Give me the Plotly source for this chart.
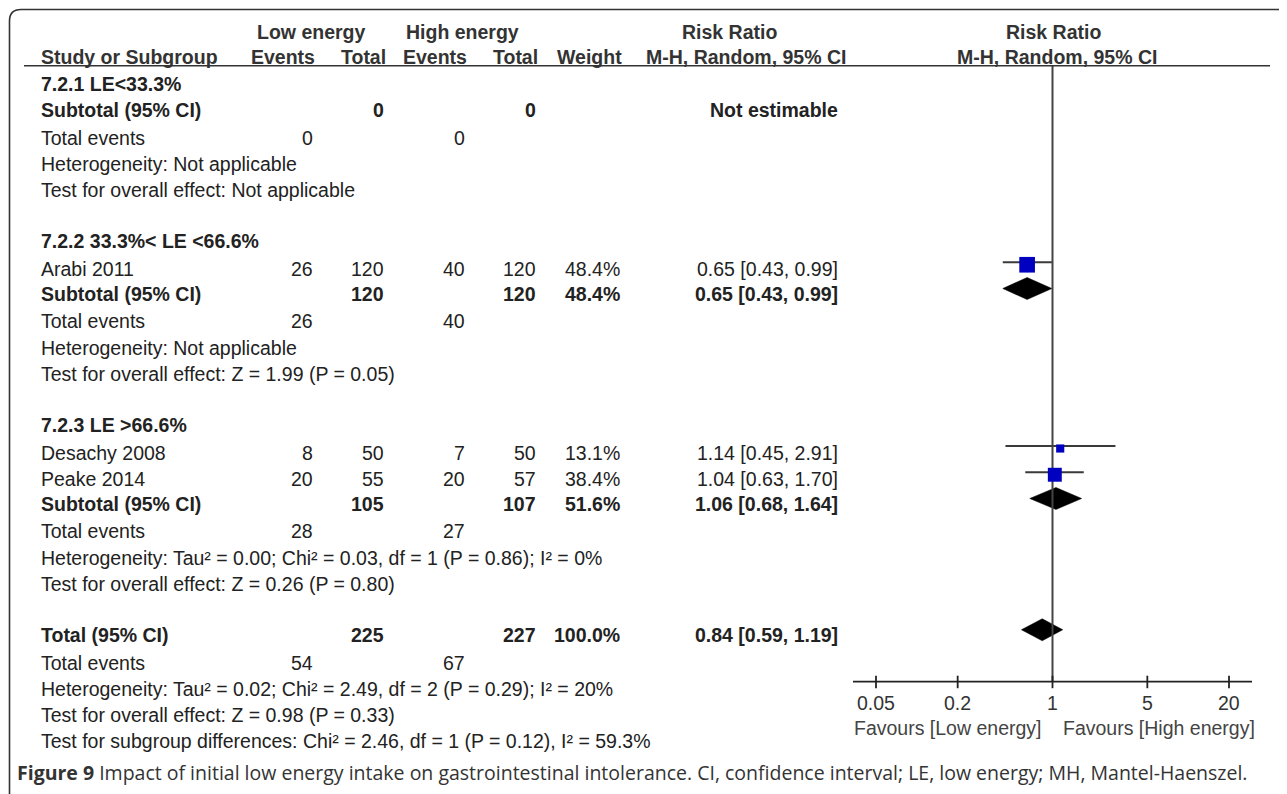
import math
import plotly.graph_objects as go

# ---------------- data ----------------
studies = ["Arabi 2011", "Desachy 2008", "Peake 2014"]
study_group = [2, 3, 3]
low_events = [26, 8, 20]
low_total = [120, 50, 55]
high_events = [40, 7, 20]
high_total = [120, 50, 57]
weights = [48.4, 13.1, 38.4]
rr = [0.65, 1.14, 1.04]
rr_lo = [0.43, 0.45, 0.63]
rr_hi = [0.99, 2.91, 1.70]

group_names = ["7.2.1 LE<33.3%", "7.2.2 33.3%< LE <66.6%", "7.2.3 LE >66.6%"]
group_low_total = [0, 120, 105]
group_high_total = [0, 120, 107]
group_weight = [None, 48.4, 51.6]
group_rr = [None, 0.65, 1.06]
group_lo = [None, 0.43, 0.68]
group_hi = [None, 0.99, 1.64]
group_low_events = [0, 26, 28]
group_high_events = [0, 40, 27]
group_het = ["Heterogeneity: Not applicable",
             "Heterogeneity: Not applicable",
             "Heterogeneity: Tau² = 0.00; Chi² = 0.03, df = 1 (P = 0.86); I² = 0%"]
group_test = ["Test for overall effect: Not applicable",
              "Test for overall effect: Z = 1.99 (P = 0.05)",
              "Test for overall effect: Z = 0.26 (P = 0.80)"]

total_low_total = 225
total_high_total = 227
total_weight = 100.0
total_rr = 0.84
total_lo = 0.59
total_hi = 1.19
total_low_events = 54
total_high_events = 67
total_het = "Heterogeneity: Tau² = 0.02; Chi² = 2.49, df = 2 (P = 0.29); I² = 20%"
total_test = "Test for overall effect: Z = 0.98 (P = 0.33)"
subgroup_test = "Test for subgroup differences: Chi² = 2.46, df = 1 (P = 0.12), I² = 59.3%"

tick_vals = [0.05, 0.2, 1, 5, 20]
tick_text = ["0.05", "0.2", "1", "5", "20"]
favours_left = "Favours [Low energy]"
favours_right = "Favours [High energy]"
caption_bold = "Figure 9"
caption_rest = (" Impact of initial low energy intake on gastrointestinal intolerance. "
                "CI, confidence interval; LE, low energy; MH, Mantel-Haenszel.")

# ---------------- layout constants ----------------
PAGE_W, PAGE_H = 1287, 794
OFF = 8                      # page body margin: the figure starts 8px in
FIG_W, FIG_H = PAGE_W - OFF, PAGE_H - OFF
FONT = "Liberation Sans, Arial, Helvetica, sans-serif"
FS = 19.5
TXT = "#222222"
HDR = "#333333"
BLUE = "#0000c0"
LINE = "#3a3a3a"
LABEL_X = 39
COL = {"ev1": 315, "tot1": 386, "ev2": 467, "tot2": 538, "wt": 622, "rr": 840}
Y0, STEP, BOLD_SHIFT = 85, 26.25, 1.5
XR = 1.4705          # half-width of the log axis range (log10 units)
X2_LEFT, X2_RIGHT = 853, 1252
AX_Y = 681.7         # y of the forest axis line
TOP_LINE_Y = 65.7

def esc(s):
    return s.replace("&", "&amp;").replace("<", "&lt;").replace(">", "&gt;")

def fmt_ci(e, l, h):
    return f"{e:.2f} [{l:.2f}, {h:.2f}]"

rows = []
def add(label="", bold=False, cells=None, mark=None):
    rows.append(dict(label=label, bold=bold, cells=cells or {}, mark=mark))

for g in range(3):
    add(esc(group_names[g]), bold=True)
    for i, s in enumerate(studies):
        if study_group[i] == g + 1:
            add(s, cells={"ev1": low_events[i], "tot1": low_total[i],
                          "ev2": high_events[i], "tot2": high_total[i],
                          "wt": f"{weights[i]:.1f}%",
                          "rr": fmt_ci(rr[i], rr_lo[i], rr_hi[i])},
                mark=("square", rr[i], rr_lo[i], rr_hi[i], weights[i]))
    if group_rr[g] is None:
        add("Subtotal (95% CI)", bold=True,
            cells={"tot1": group_low_total[g], "tot2": group_high_total[g], "rr": "Not estimable"})
    else:
        add("Subtotal (95% CI)", bold=True,
            cells={"tot1": group_low_total[g], "tot2": group_high_total[g],
                   "wt": f"{group_weight[g]:.1f}%",
                   "rr": fmt_ci(group_rr[g], group_lo[g], group_hi[g])},
            mark=("diamond", group_rr[g], group_lo[g], group_hi[g], None))
    add("Total events", cells={"ev1": group_low_events[g], "ev2": group_high_events[g]})
    add(group_het[g])
    add(group_test[g])
    add("")

add("Total (95% CI)", bold=True,
    cells={"tot1": total_low_total, "tot2": total_high_total,
           "wt": f"{total_weight:.1f}%", "rr": fmt_ci(total_rr, total_lo, total_hi)},
    mark=("diamond", total_rr, total_lo, total_hi, None))
add("Total events", cells={"ev1": total_low_events, "ev2": total_high_events})
add(total_het)
add(total_test)
add(subgroup_test)

fig = go.Figure()
ann = []

def text(x, y, s, bold=False, anchor="left", color=TXT, size=FS, xref="x", family=FONT, xshift=0):
    ann.append(dict(x=x, y=y, xref=xref, yref="y", text=(f"<b>{s}</b>" if bold else s),
                    showarrow=False, xanchor=anchor, yanchor="middle", xshift=xshift,
                    font=dict(family=family, size=size, color=color)))

# headers
text(311, 32, "Low energy", bold=True, anchor="center", color=HDR)
text(462, 32, "High energy", bold=True, anchor="center", color=HDR)
text(729, 32, "Risk Ratio", bold=True, anchor="center", color=HDR)
text(1053, 32, "Risk Ratio", bold=True, anchor="center", color=HDR)
text(LABEL_X, 57, "Study or Subgroup", bold=True, color=HDR)
for key, lab in [("ev1", "Events"), ("tot1", "Total"), ("ev2", "Events"), ("tot2", "Total"), ("wt", "Weight")]:
    text(COL[key] + 2, 57, lab, bold=True, anchor="right", color=HDR)
text(848, 57, "M-H, Random, 95% CI", bold=True, anchor="right", color=HDR)
text(1057, 57, "M-H, Random, 95% CI", bold=True, anchor="center", color=HDR)

# rows
sq_x, sq_y, sq_s = [], [], []
for idx, r in enumerate(rows):
    y = Y0 + idx * STEP - (BOLD_SHIFT if r["bold"] else 0)
    if r["label"]:
        text(LABEL_X, y, r["label"], bold=r["bold"])
    for key, val in r["cells"].items():
        text(COL[key], y, str(val), bold=r["bold"], anchor="right")
    m = r["mark"]
    if m is None:
        continue
    kind, est, lo, hi, w = m
    if kind == "square":
        fig.add_trace(go.Scatter(x=[lo, hi], y=[y - 6.5, y - 6.5], xaxis="x2", yaxis="y",
                                 mode="lines", line=dict(color=LINE, width=2),
                                 hoverinfo="skip", showlegend=False))
        sq_x.append(est); sq_y.append(y - 4); sq_s.append(2.25 * math.sqrt(w))
    else:
        yc = y - 5
        fig.add_trace(go.Scatter(x=[lo, est, hi, est, lo], y=[yc, yc - 11, yc, yc + 11, yc],
                                 xaxis="x2", yaxis="y", mode="lines", fill="toself",
                                 fillcolor="black", line=dict(color="black", width=0.5),
                                 hoverinfo="skip", showlegend=False))

# null line
fig.add_trace(go.Scatter(x=[1, 1], y=[TOP_LINE_Y, AX_Y], xaxis="x2", yaxis="y", mode="lines",
                         line=dict(color="#444444", width=2), hoverinfo="skip", showlegend=False))
# study squares
fig.add_trace(go.Scatter(x=sq_x, y=sq_y, xaxis="x2", yaxis="y", mode="markers",
                         marker=dict(symbol="square", size=sq_s, color=BLUE, opacity=1,
                                     line=dict(width=0)),
                         hoverinfo="skip", showlegend=False))
# axis line and ticks
fig.add_trace(go.Scatter(x=[10 ** -XR, 10 ** XR], y=[AX_Y, AX_Y], xaxis="x2", yaxis="y",
                         mode="lines", line=dict(color="#222222", width=1.8),
                         hoverinfo="skip", showlegend=False))
tx, ty = [], []
for v in tick_vals:
    tx += [v, v, None]; ty += [AX_Y - 6, AX_Y + 6.5, None]
fig.add_trace(go.Scatter(x=tx, y=ty, xaxis="x2", yaxis="y", mode="lines",
                         line=dict(color="#222222", width=1.8), hoverinfo="skip", showlegend=False))
for v, t in zip(tick_vals, tick_text):
    text(math.log10(v), 703, t, anchor="center", xref="x2", color="#333333")
text(0, 728, favours_left, anchor="right", xref="x2", color="#444444", xshift=-9)
text(0, 728, favours_right, anchor="left", xref="x2", color="#444444", xshift=8)

# caption
ann.append(dict(x=15, y=772, xref="x", yref="y", showarrow=False, xanchor="left", yanchor="middle",
                text=f"<b>{caption_bold}</b>{caption_rest}",
                font=dict(family="Open Sans, sans-serif", size=19.5, color="#333333")))

shapes = [
    dict(type="path", xref="x", yref="y",
         path="M 9.5,810 L 9.5,21 Q 9.5,9.5 21,9.5 L 1278,9.5 Q 1290,9.5 1290,21 L 1290,810",
         line=dict(color="#333333", width=1.6)),
    dict(type="line", xref="x", yref="y", x0=24, x1=1270, y0=TOP_LINE_Y, y1=TOP_LINE_Y,
         line=dict(color="#333333", width=1.6)),
]

fig.update_layout(
    width=FIG_W, height=FIG_H, margin=dict(l=0, r=0, t=0, b=0),
    paper_bgcolor="white", plot_bgcolor="white", showlegend=False,
    xaxis=dict(range=[OFF, PAGE_W], domain=[0, 1], visible=False, fixedrange=True),
    xaxis2=dict(type="log", range=[-XR, XR],
                domain=[(X2_LEFT - OFF) / FIG_W, (X2_RIGHT - OFF) / FIG_W],
                anchor="y", visible=False, fixedrange=True),
    yaxis=dict(range=[PAGE_H, OFF], domain=[0, 1], visible=False, fixedrange=True),
    annotations=ann, shapes=shapes,
)

fig.write_html("out.html")
